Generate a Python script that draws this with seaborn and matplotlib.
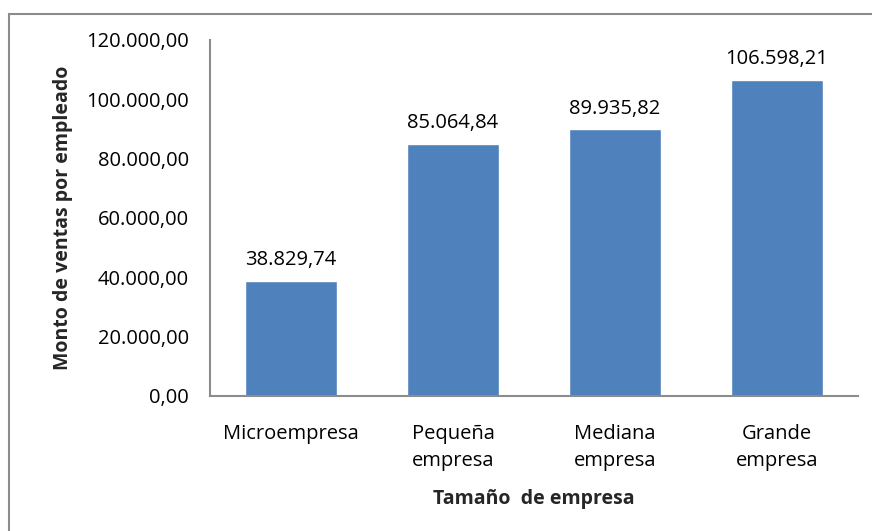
import matplotlib
matplotlib.use("Agg")
import matplotlib.pyplot as plt
import seaborn as sns
import pandas as pd
from matplotlib.patches import Rectangle

categories = ["Microempresa", "Pequeña\nempresa", "Mediana\nempresa", "Grande\nempresa"]
values = [38829.74, 85064.84, 89935.82, 106598.21]
yticks = [0, 20000, 40000, 60000, 80000, 100000, 120000]

def fmt(v):
    s = f"{v:,.2f}"
    return s.replace(",", "X").replace(".", ",").replace("X", ".")

sns.set_theme(style="white")
plt.rcParams['font.family'] = ['Open Sans', 'DejaVu Sans']

FS = 14.5
fig = plt.figure(figsize=(8.72, 5.31), dpi=100)
ax = fig.add_axes([210/872, 1-396/531, 648/872, 356/531])

df = pd.DataFrame({"cat": categories, "val": values})
sns.barplot(data=df, x="cat", y="val", color="#4F81BD", saturation=1, width=0.57, ax=ax)

for i, v in enumerate(values):
    ax.text(i, v + 3500, fmt(v), ha="center", va="bottom", fontsize=FS, color="#000000")

ax.set_ylim(0, 120000)
ax.set_xlim(-0.5, 3.5)
ax.set_yticks(yticks)
ax.set_yticklabels([fmt(t) for t in yticks], fontsize=FS, color="#000000")
ax.tick_params(axis="x", labelsize=FS, colors="#000000", pad=20, length=0)
ax.tick_params(axis="y", pad=15, length=0)
for t in ax.get_xticklabels():
    t.set_linespacing(1.5)
ax.set_xlabel("Tamaño  de empresa", fontsize=FS - 0.5, fontweight="bold", labelpad=13)
ax.set_ylabel("Monto de ventas por empleado", fontsize=FS - 0.5, fontweight="bold", labelpad=10)
for s in ["top", "right"]:
    ax.spines[s].set_visible(False)
for s in ["left", "bottom"]:
    ax.spines[s].set_color("#8C8C8C")
    ax.spines[s].set_linewidth(1.5)

fig.patches.append(Rectangle((8.5/872, -0.01), 1.0, 1-13.5/531 + 0.01, transform=fig.transFigure,
                             fill=False, edgecolor="#8C8C8C", linewidth=1.5))

fig.savefig("out.png", dpi=100, facecolor="white")
